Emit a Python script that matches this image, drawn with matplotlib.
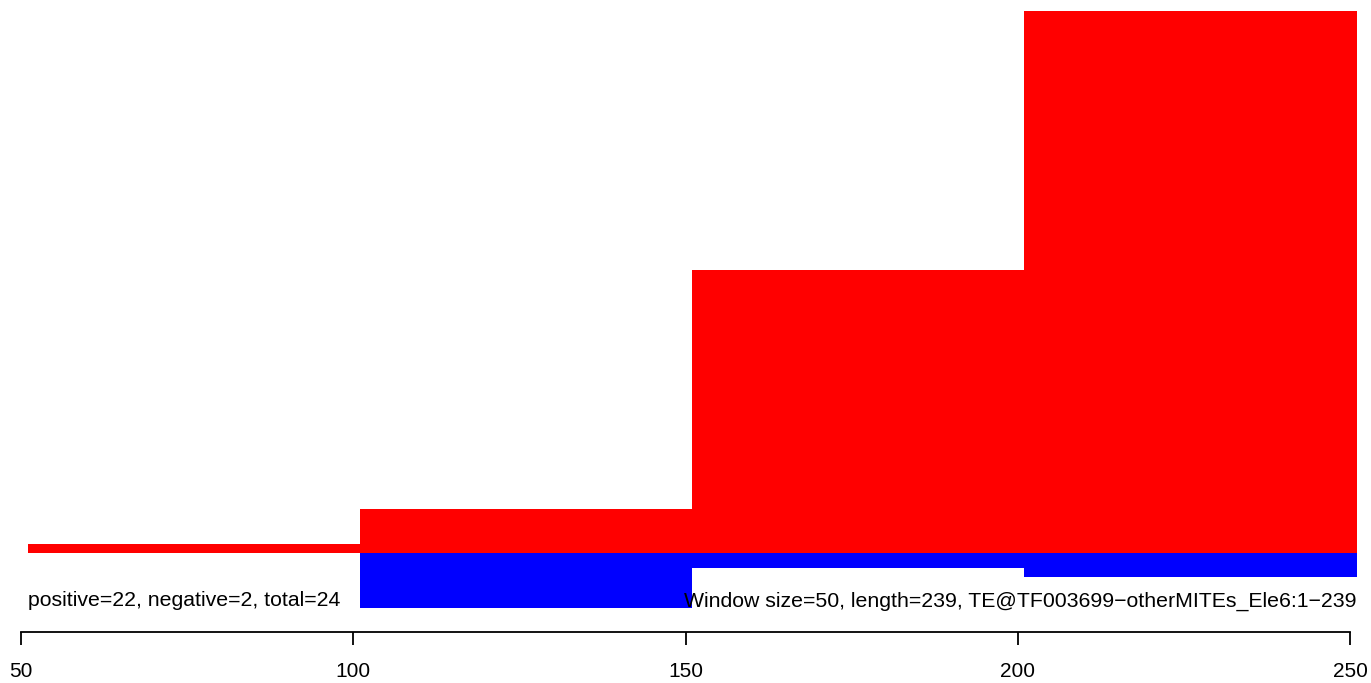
import matplotlib
matplotlib.use("Agg")
import matplotlib.pyplot as plt

# window starts, window size 50
window_start = [51, 101, 151, 201]
window_size = 50
positive = [0.016, 0.081, 0.522, 1.0]
negative = [0.0, 0.102, 0.028, 0.044]
tick_values = [50, 100, 150, 200, 250]

left_text = "positive=22, negative=2, total=24"
right_text = "Window size=50, length=239, TE@TF003699\u2212otherMITEs_Ele6:1\u2212239"

plt.rcParams["font.family"] = ["Liberation Sans", "DejaVu Sans"]

fig = plt.figure(figsize=(13.71, 6.83), dpi=100)
ax = fig.add_axes([0, 0, 1, 1])

ax.bar(window_start, positive, width=window_size, align="edge",
       color="#FF0000", linewidth=0)
ax.bar(window_start, [-v for v in negative], width=window_size, align="edge",
       color="#0000FF", linewidth=0)

# pixel-matched limits
px_per_unit = 1329 / 200
ax.set_xlim(50 - 21 / px_per_unit, 250 + 21 / px_per_unit)
py = 541.7
ax.set_ylim(-(683 - 552.7) / py, 1 + 11 / py)

ax.text(51, -(601 - 552.7) / py, left_text, ha="left", va="center", fontsize=15.35)
ax.text(251, -(601 - 552.7) / py, right_text, ha="right", va="center", fontsize=15.35)

for s in ["top", "left", "right"]:
    ax.spines[s].set_visible(False)
ax.spines["bottom"].set_position(("data", -(632 - 552.7) / py))
ax.spines["bottom"].set_bounds(50, 250)
ax.spines["bottom"].set_linewidth(1.3)
ax.set_xticks(tick_values)
ax.set_xticklabels([str(t) for t in tick_values])
ax.tick_params(axis="x", length=9.5, width=1.3, labelsize=15, pad=12)
ax.set_yticks([])

fig.savefig("out.png", dpi=100)
